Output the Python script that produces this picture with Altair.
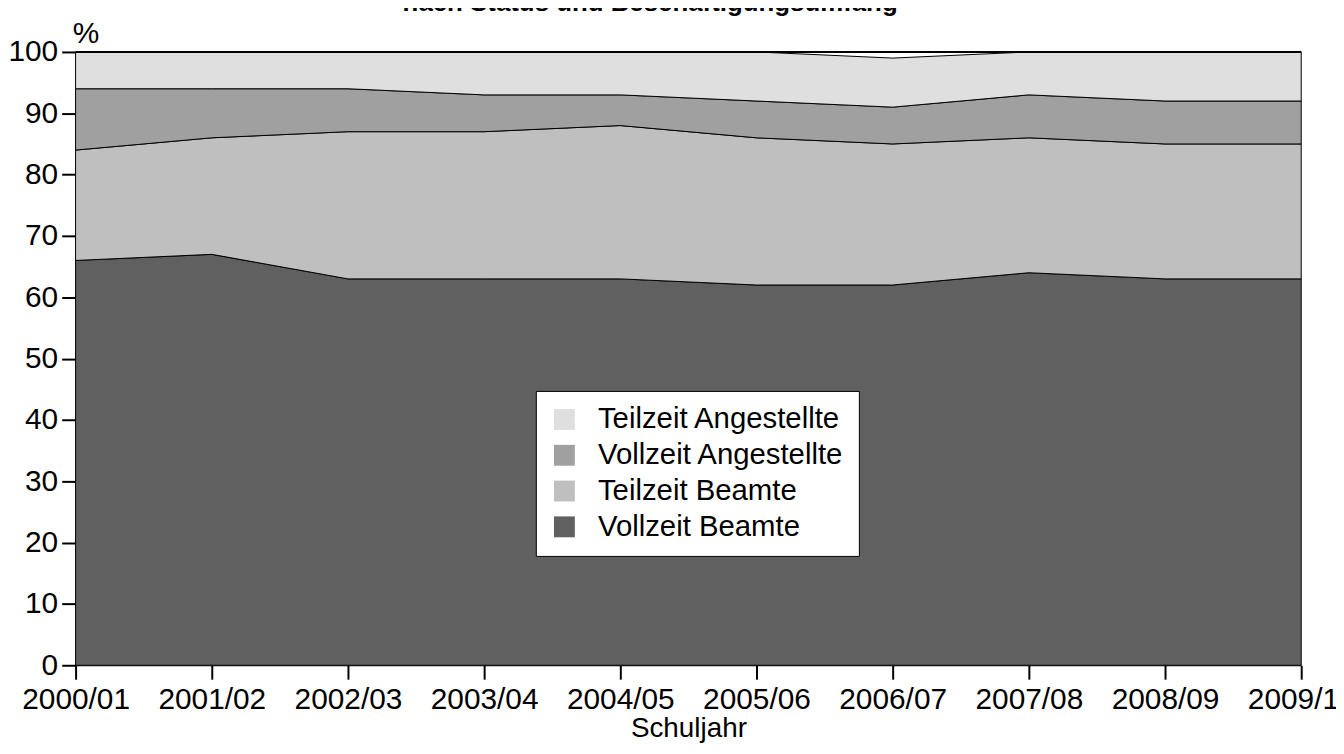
import altair as alt
import pandas as pd

jahre = ["2000/01", "2001/02", "2002/03", "2003/04", "2004/05",
         "2005/06", "2006/07", "2007/08", "2008/09", "2009/10"]
vollzeit_beamte = [66, 67, 63, 63, 63, 62, 62, 64, 63, 63]
teilzeit_beamte = [18, 19, 24, 24, 25, 24, 23, 22, 22, 22]
vollzeit_angestellte = [10, 8, 7, 6, 5, 6, 6, 7, 7, 7]
teilzeit_angestellte = [6, 6, 6, 7, 7, 8, 8, 7, 8, 8]

kategorien = ["Teilzeit Angestellte", "Vollzeit Angestellte", "Teilzeit Beamte", "Vollzeit Beamte"]
farben = ["#dfdfdf", "#a0a0a0", "#bfbfbf", "#606060"]
titel = "nach Status und Beschäftigungsumfang"

serien = {
    "Vollzeit Beamte": (vollzeit_beamte, 0),
    "Teilzeit Beamte": (teilzeit_beamte, 1),
    "Vollzeit Angestellte": (vollzeit_angestellte, 2),
    "Teilzeit Angestellte": (teilzeit_angestellte, 3),
}
rows = []
for name, (vals, o) in serien.items():
    for j, v in zip(jahre, vals):
        rows.append({"Schuljahr": j, "Kategorie": name, "Wert": v, "ord": o})
df = pd.DataFrame(rows)

FONT = "Liberation Sans"
FS = 30

area = alt.Chart(df).mark_area(stroke="black", strokeWidth=1, opacity=1).encode(
    x=alt.X("Schuljahr:O", scale=alt.Scale(type="point", padding=0),
            sort=jahre,
            axis=alt.Axis(title="Schuljahr", labelAngle=0, tickSize=14,
                          tickColor="black", domainColor="black",
                          labelPadding=5, titlePadding=1, titleFontSize=28)),
    y=alt.Y("Wert:Q", stack="zero", scale=alt.Scale(domain=[0, 100], nice=False),
            axis=alt.Axis(title="%", titleAngle=0, titleX=10, titleY=-10,
                          titleAlign="center", titleBaseline="alphabetic",
                          values=list(range(0, 101, 10)), tickSize=14,
                          tickColor="black", domainColor="black",
                          labelPadding=4, grid=False)),
    color=alt.Color("Kategorie:N",
                    scale=alt.Scale(domain=kategorien, range=farben),
                    legend=alt.Legend(title=None, orient="none", legendX=463, legendY=341,
                                      symbolType="square", symbolSize=441,
                                      symbolStrokeWidth=0, symbolOpacity=1,
                                      labelFontSize=29.5, labelFont=FONT, labelLimit=0,
                                      labelColor="black", labelOffset=19,
                                      rowPadding=5, padding=14,
                                      fillColor="white", strokeColor="black")),
    order=alt.Order("ord:Q", sort="ascending"),
)

top_rule = alt.Chart(pd.DataFrame({"y": [100]})).mark_rule(
    color="black", strokeWidth=2).encode(y="y:Q")

title_text = alt.Chart(pd.DataFrame({"t": [titel]})).mark_text(
    font=FONT, fontSize=26, fontWeight="bold", baseline="alphabetic",
    align="center", color="black").encode(
    text="t:N", x=alt.value(578), y=alt.value(-41))

chart = alt.layer(area, top_rule, title_text).properties(
    width=1233, height=617,
    autosize=alt.AutoSizeParams(type="none"),
    padding={"left": 68, "top": 42, "right": 35, "bottom": 79},
).configure_view(stroke=None).configure_axis(
    labelFont=FONT, labelFontSize=FS, titleFont=FONT, titleFontSize=FS,
    titleFontWeight="normal", labelColor="black", titleColor="black",
    domainWidth=1, tickWidth=2,
)

chart.save("out.html", embed_options={"renderer": "svg", "actions": False})
